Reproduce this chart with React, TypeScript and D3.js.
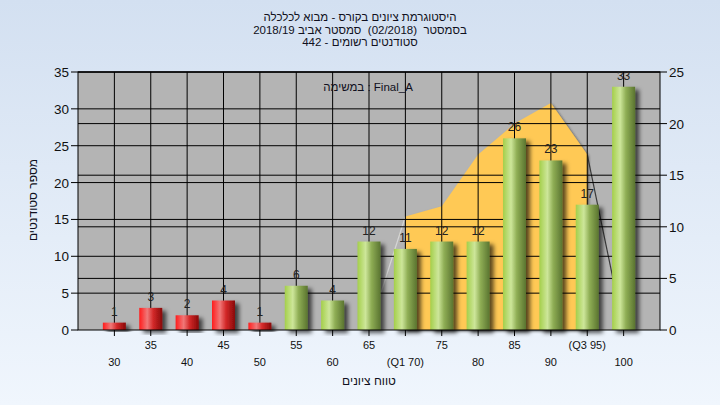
import React from 'react';
import * as d3 from 'd3';

const categories = ['30', '35', '40', '45', '50', '55', '60', '65', '70', '75', '80', '85', '90', '95', '100'];
const tickLabels = ['30', '35', '40', '45', '50', '55', '60', '65', '(Q1 70)', '75', '80', '85', '90', '(Q3 95)', '100'];
const counts = [1, 3, 2, 4, 1, 6, 4, 12, 11, 12, 12, 26, 23, 17, 33];
// range band series (right axis), only defined from 65 to 100
const rangeValues: (number | null)[] = [null, null, null, null, null, null, null, 0, 11, 12, 17, 20, 22, 17, 0];
const failCount = 5; // first 5 categories below passing grade
const leftTicks = [0, 5, 10, 15, 20, 25, 30, 35];
const rightTicks = [0, 5, 10, 15, 20, 25];
const titleLines = [
  'היסטוגרמת ציונים בקורס - מבוא לכלכלה',
  'בסמסטר  (02/2018)  סמסטר אביב 2018/19',
  'סטודנטים רשומים - 442',
];

const W = 720, H = 405;
const left = 78, right = 660, top = 72, bottom = 330;
const font = '"Liberation Sans", Arial, sans-serif';

const App = () => {
  const x = d3.scalePoint<string>().domain(categories).range([left, right]).padding(1);
  const yL = d3.scaleLinear().domain([0, 35]).range([bottom, top]);
  const yR = d3.scaleLinear().domain([0, 25]).range([bottom, top]);
  const barW = 23;

  const pts = categories
    .map((c, i) => ({ c, i, v: rangeValues[i] }))
    .filter(d => d.v !== null) as { c: string; i: number; v: number }[];
  const q1 = 8, q3 = 13;
  const mid = pts.filter(d => d.i >= q1 && d.i <= q3);
  const area = d3.area<{ c: string; v: number }>()
    .x(d => x(d.c)!)
    .y0(bottom)
    .y1(d => yR(d.v));
  const line = d3.line<{ c: string; v: number }>().x(d => x(d.c)!).y(d => yR(d.v));
  const leftSeg = pts.filter(d => d.i <= q1);
  const rightSeg = pts.filter(d => d.i >= q3);

  return (
    <svg width={W} height={H} style={{ position: 'absolute', left: 0, top: 0 }} fontFamily={font}>
      <defs>
        <linearGradient id="bg" x1="0" y1="0" x2="0" y2="1">
          <stop offset="0" stopColor="#d3e0f1" />
          <stop offset="1" stopColor="#f0f6fd" />
        </linearGradient>
        <linearGradient id="green" x1="0" y1="0" x2="1" y2="0">
          <stop offset="0" stopColor="#a4cf4a" />
          <stop offset="0.35" stopColor="#cde69a" />
          <stop offset="0.6" stopColor="#8fae55" />
          <stop offset="1" stopColor="#5a7430" />
        </linearGradient>
        <linearGradient id="red" x1="0" y1="0" x2="1" y2="0">
          <stop offset="0" stopColor="#ff1c1c" />
          <stop offset="0.35" stopColor="#f07878" />
          <stop offset="0.6" stopColor="#d42a2a" />
          <stop offset="1" stopColor="#880808" />
        </linearGradient>
        <filter id="shadow" x="-30%" y="-10%" width="170%" height="130%">
          <feDropShadow dx="4" dy="3" stdDeviation="2" floodColor="#000" floodOpacity="0.65" />
        </filter>
        <filter id="ashadow" x="-10%" y="-10%" width="130%" height="130%">
          <feDropShadow dx="1.5" dy="1.5" stdDeviation="0.8" floodColor="#222" floodOpacity="0.7" />
        </filter>
      </defs>
      <rect width={W} height={H} fill="url(#bg)" />

      {titleLines.map((t, i) => (
        <text
          key={i}
          x={W / 2}
          y={21 + i * 12.5}
          textAnchor="middle"
          direction="rtl"
          fontSize={11.5}
          fill="#101020"
          style={{ whiteSpace: 'pre' }}
        >
          {t}
        </text>
      ))}

      <rect x={left} y={top} width={right - left} height={bottom - top} fill="#b4b4b4" />

      {/* range area */}
      <path d={line(leftSeg)!} fill="none" stroke="#d6d6d6" strokeWidth={1.2} />
      <path d={line(rightSeg)!} fill="none" stroke="#3a3a3a" strokeWidth={1.2} />
      <path d={area(mid)!} fill="#ffc955" filter="url(#ashadow)" />

      {/* grid */}
      {leftTicks.slice(1).map(t => (
        <line key={'gl' + t} x1={left} x2={right} y1={yL(t)} y2={yL(t)} stroke="#000" />
      ))}
      {rightTicks.slice(1).map(t => (
        <line key={'gr' + t} x1={left} x2={right} y1={yR(t)} y2={yR(t)} stroke="#000" />
      ))}
      {categories.map(c => (
        <line key={'gv' + c} x1={x(c)} x2={x(c)} y1={top} y2={bottom + 6} stroke="#000" />
      ))}

      {/* bars */}
      {categories.map((c, i) => (
        <rect
          key={'b' + c}
          x={x(c)! - barW / 2}
          y={yL(counts[i])}
          width={barW}
          height={bottom - yL(counts[i])}
          fill={i < failCount ? 'url(#red)' : 'url(#green)'}
          filter="url(#shadow)"
        />
      ))}

      {/* frame */}
      <rect x={left} y={top} width={right - left} height={bottom - top} fill="none" stroke="#000" />

      {categories.map((c, i) => (
        <text key={'v' + c} x={x(c)} y={yL(counts[i]) - 7} textAnchor="middle" fontSize={12} fill="#222">
          {counts[i]}
        </text>
      ))}

      {/* left axis */}
      {leftTicks.map(t => (
        <g key={'lt' + t}>
          <line x1={left - 7} x2={left} y1={yL(t)} y2={yL(t)} stroke="#000" />
          <text x={left - 9} y={yL(t) + 5} textAnchor="end" fontSize={13.5} fill="#111">{t}</text>
        </g>
      ))}
      {/* right axis */}
      {rightTicks.map(t => (
        <g key={'rt' + t}>
          <line x1={right} x2={right + 7} y1={yR(t)} y2={yR(t)} stroke="#000" />
          <text x={right + 9} y={yR(t) + 5} textAnchor="start" fontSize={13.5} fill="#111">{t}</text>
        </g>
      ))}

      {/* x labels, alternating rows */}
      {categories.map((c, i) => (
        <text key={'xl' + c} x={x(c)} y={i % 2 === 1 ? 349 : 366} textAnchor="middle" fontSize={11} fill="#111">
          {tickLabels[i]}
        </text>
      ))}

      <text x={(left + right) / 2} y={385} textAnchor="middle" direction="rtl" fontSize={12} fill="#101020">
        טווח ציונים
      </text>
      <text
        transform={`translate(37, 200) rotate(-90)`}
        textAnchor="middle"
        direction="rtl"
        fontSize={12}
        fill="#101020"
      >
        מספר סטודנטים
      </text>

      <text x={368} y={91} textAnchor="middle" fontSize={11.5} fill="#101020">
        במשימה : Final_A
      </text>
    </svg>
  );
};

export default App;
